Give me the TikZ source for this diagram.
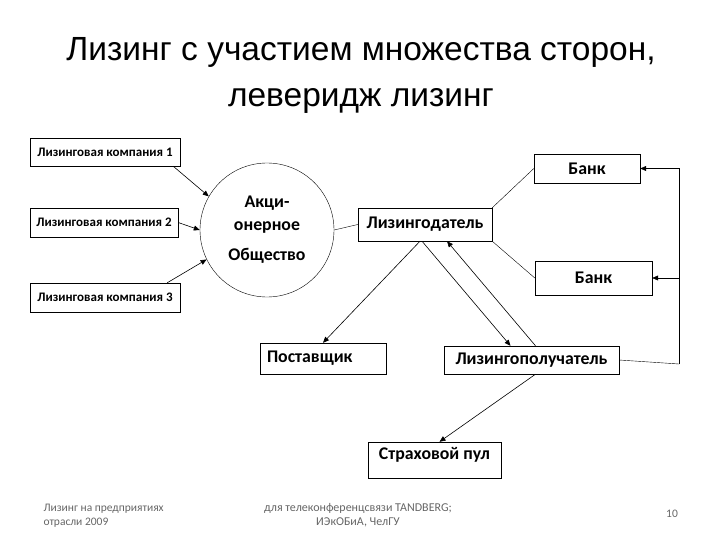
\documentclass[tikz,border=0pt]{standalone}
\usepackage{fontspec}
\setmainfont{Carlito}
\newfontfamily\titlefont{Liberation Sans}
\usetikzlibrary{arrows.meta}

\tikzset{
  box/.style={draw, thin, inner sep=0pt, font=\bfseries\fontsize{17.8}{20}\selectfont},
  smallbox/.style={draw, thin, inner sep=0pt, font=\bfseries\fontsize{13}{15}\selectfont},
  arr/.style={-{Triangle[length=6pt,width=5pt]}, semithick},
  link/.style={thin},
  foot/.style={text=black!60, align=left},
}

\begin{document}
\begin{tikzpicture}[x=1pt,y=-1pt]
  \useasboundingbox (0,0) rectangle (720,540);
  % title
  \node[font=\titlefont\fontsize{33.5}{40}\selectfont, align=center] (title) at (361,75)
    {Лизинг с участием множества сторон,\\[6pt]леверидж лизинг};

  % leasing companies
  \node[smallbox, minimum width=150, minimum height=28] (lk1) at (105,152) {Лизинговая компания 1};
  \node[smallbox, minimum width=148, minimum height=29] (lk2) at (104,222.5) {Лизинговая компания 2};
  \node[smallbox, minimum width=150, minimum height=29] (lk3) at (105,297.5) {Лизинговая компания 3};

  % joint-stock company
  \node[draw, thin, circle, minimum size=134, align=center, font=\bfseries\fontsize{17.8}{20}\selectfont] (ao) at (267,230)
    {Акци-\\[3pt]онерное\\[10pt]Общество};

  \node[box, minimum width=134, minimum height=33] (lessor) at (425,224.5) {Лизингодатель};
  \node[box, minimum width=106, minimum height=29] (bank1) at (587,168.5) {Банк};
  \node[box, minimum width=117, minimum height=34] (bank2) at (593.5,278) {Банк};
  \node[box, minimum height=31, text width=112, inner xsep=7, align=left] (supplier) at (323,358.5) {Поставщик};
  \node[box, minimum width=175, minimum height=28] (lessee) at (531.5,360) {Лизингополучатель};
  \node[box, minimum width=133, minimum height=36, text depth=14] (pool) at (434.5,460) {Страховой пул};
  \coordinate (rt) at (679,364);

  % connectors
  \draw[arr] ([xshift=-7]lk1.south east) -- (ao.150);
  \draw[arr] (lk2.east) -- (ao.west);
  \draw[arr] ([xshift=-13]lk3.north east) -- (ao.206);
  \draw[link] (ao.east) -- (lessor.west);
  \draw[link] (lessor.north east) -- (bank1.west);
  \draw[link] (lessor.south east) -- (bank2.west);
  \draw[arr] ([xshift=-5]lessor.south) -- (supplier.north);
  \draw[arr] ([xshift=-3]lessor.south) -- ([xshift=-21]lessee.north);
  \draw[arr] ([xshift=4]lessee.north) -- ([xshift=22]lessor.south);
  \draw[arr] ([xshift=4]lessee.south) -- ([xshift=5]pool.north);
  \draw[link] (lessee.east) -- (rt);
  \draw[arr] (rt) |- (bank1.east);
  \draw[arr] (rt |- bank2.east) -- (bank2.east);

  % footer
  \node[foot, font=\fontsize{11.5}{13.5}\selectfont, anchor=north west] (f1) at (40,501) {Лизинг на предприятиях\\отрасли 2009};
  \node[foot, font=\fontsize{12}{14}\selectfont, align=center] (f2) at (358,515) {для телеконференцсвязи TANDBERG;\\ИЭкОБиА, ЧелГУ};
  \node[foot, font=\fontsize{11.5}{13.5}\selectfont] (f3) at (672,514) {10};
\end{tikzpicture}
\end{document}
